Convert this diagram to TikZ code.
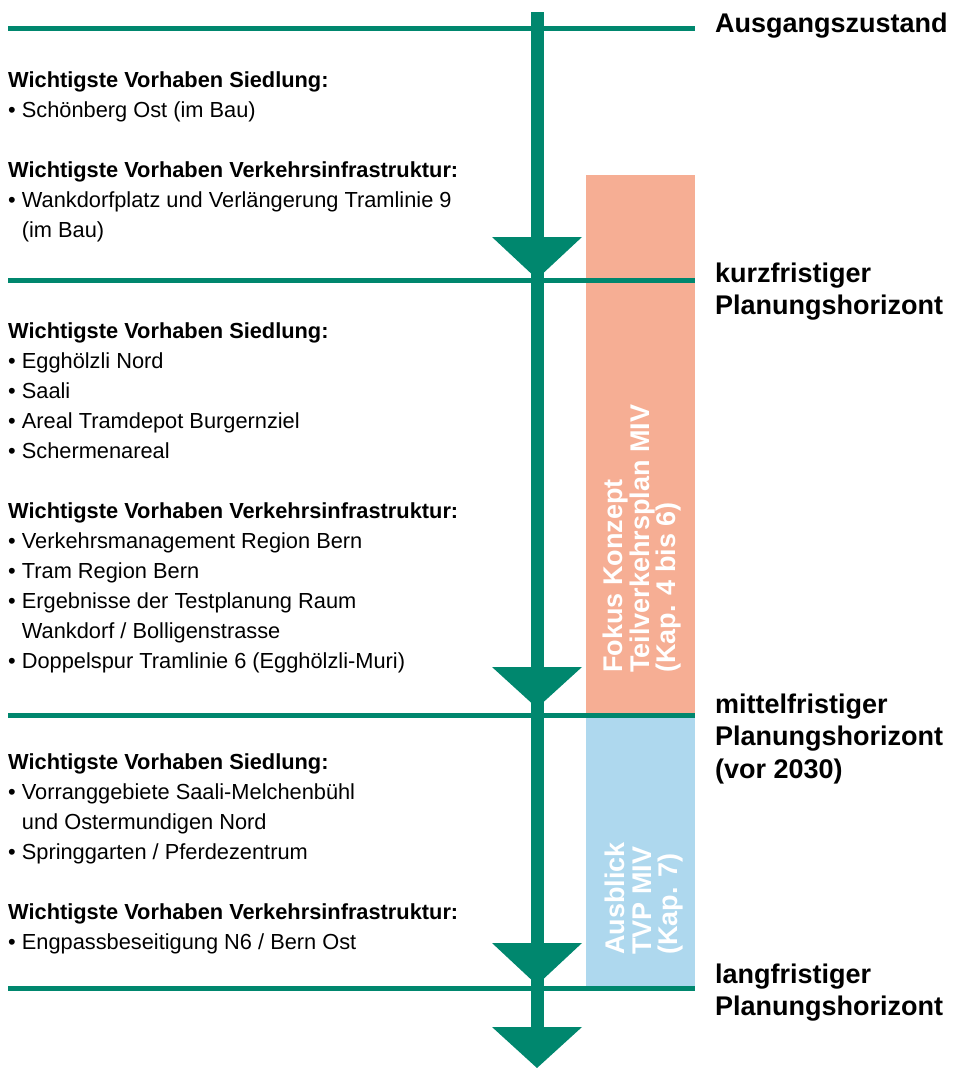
\documentclass[tikz,border=0pt]{standalone}
\usepackage{fontspec}
\setmainfont{Liberation Sans}
\usepackage{xcolor}
\usepackage{tikz}
\usetikzlibrary{positioning}

\definecolor{spinegreen}{RGB}{0,135,110}
\definecolor{fokusred}{RGB}{246,174,148}
\definecolor{ausblue}{RGB}{174,216,238}

\newcommand{\bul}{\textbullet\ }
\newcommand{\ind}{\hphantom{\textbullet\ }}

\tikzset{
  horizon/.style={spinegreen, line width=5pt},
  spine/.style={spinegreen, line width=13pt},
  arrowhead/.style={fill=spinegreen},
  stagetext/.style={anchor=north west, inner sep=0pt, align=left,
    font=\fontsize{21.8}{30}\selectfont},
  horizonlabel/.style={anchor=north west, inner sep=0pt, align=left,
    font=\fontsize{27}{32.5}\selectfont\bfseries},
  barlabel/.style={anchor=north west, inner sep=0pt, align=left, rotate=90,
    text=white, font=\fontsize{27}{26.5}\selectfont\bfseries},
}

\begin{document}
\begin{tikzpicture}[x=1pt, y=-1pt]
\useasboundingbox (0,0) rectangle (953,1068);

% focus bars
\fill[fokusred] (586,175) rectangle (695,715);
\fill[ausblue] (586,715) rectangle (695,988);
\node[barlabel] (fokus) at (603,673) {Fokus Konzept\\Teilverkehrsplan MIV\\(Kap. 4 bis 6)};
\node[barlabel] (ausblick) at (605,955) {Ausblick\\TVP MIV\\(Kap. 7)};

% horizons
\coordinate (h0) at (537,28);
\coordinate (h1) at (537,280);
\coordinate (h2) at (537,715);
\coordinate (h3) at (537,988);
\foreach \h in {h0,h1,h2,h3}
  \draw[horizon] (\h -| 8,0) -- (\h -| 695,0);

% time axis
\coordinate (start) at (537,12);
\coordinate (end) at (537,1050);
\draw[spine] (start) -- (end);
\foreach \t/\tip in {237/279, 667/708, 943/985, 1027/1068}
  \fill[arrowhead] (492,\t) -- (582,\t) -- (537,\tip) -- cycle;

% horizon labels
\node[horizonlabel] (ausgang) at (715,12.3) {Ausgangszustand};
\node[horizonlabel] (kurz) at (715,262.3) {kurzfristiger\\Planungshorizont};
\node[horizonlabel] (mittel) at (715,693.3) {mittelfristiger\\Planungshorizont\\(vor 2030)};
\node[horizonlabel] (lang) at (715,963.3) {langfristiger\\Planungshorizont};

% projects per stage
\node[stagetext] (stage1) at (8,71.2) {\textbf{Wichtigste Vorhaben Siedlung:}\\
  \bul Schönberg Ost (im Bau)\\[30pt]
  \textbf{Wichtigste Vorhaben Verkehrsinfrastruktur:}\\
  \bul Wankdorfplatz und Verlängerung Tramlinie 9\\
  \ind(im Bau)};
\node[stagetext] (stage2) at (8,322.2) {\textbf{Wichtigste Vorhaben Siedlung:}\\
  \bul Egghölzli Nord\\
  \bul Saali\\
  \bul Areal Tramdepot Burgernziel\\
  \bul Schermenareal\\[30pt]
  \textbf{Wichtigste Vorhaben Verkehrsinfrastruktur:}\\
  \bul Verkehrsmanagement Region Bern\\
  \bul Tram Region Bern\\
  \bul Ergebnisse der Testplanung Raum\\
  \ind Wankdorf / Bolligenstrasse\\
  \bul Doppelspur Tramlinie 6 (Egghölzli-Muri)};
\node[stagetext] (stage3) at (8,753.2) {\textbf{Wichtigste Vorhaben Siedlung:}\\
  \bul Vorranggebiete Saali-Melchenbühl\\
  \ind und Ostermundigen Nord\\
  \bul Springgarten / Pferdezentrum\\[30pt]
  \textbf{Wichtigste Vorhaben Verkehrsinfrastruktur:}\\
  \bul Engpassbeseitigung N6 / Bern Ost};
\end{tikzpicture}
\end{document}
